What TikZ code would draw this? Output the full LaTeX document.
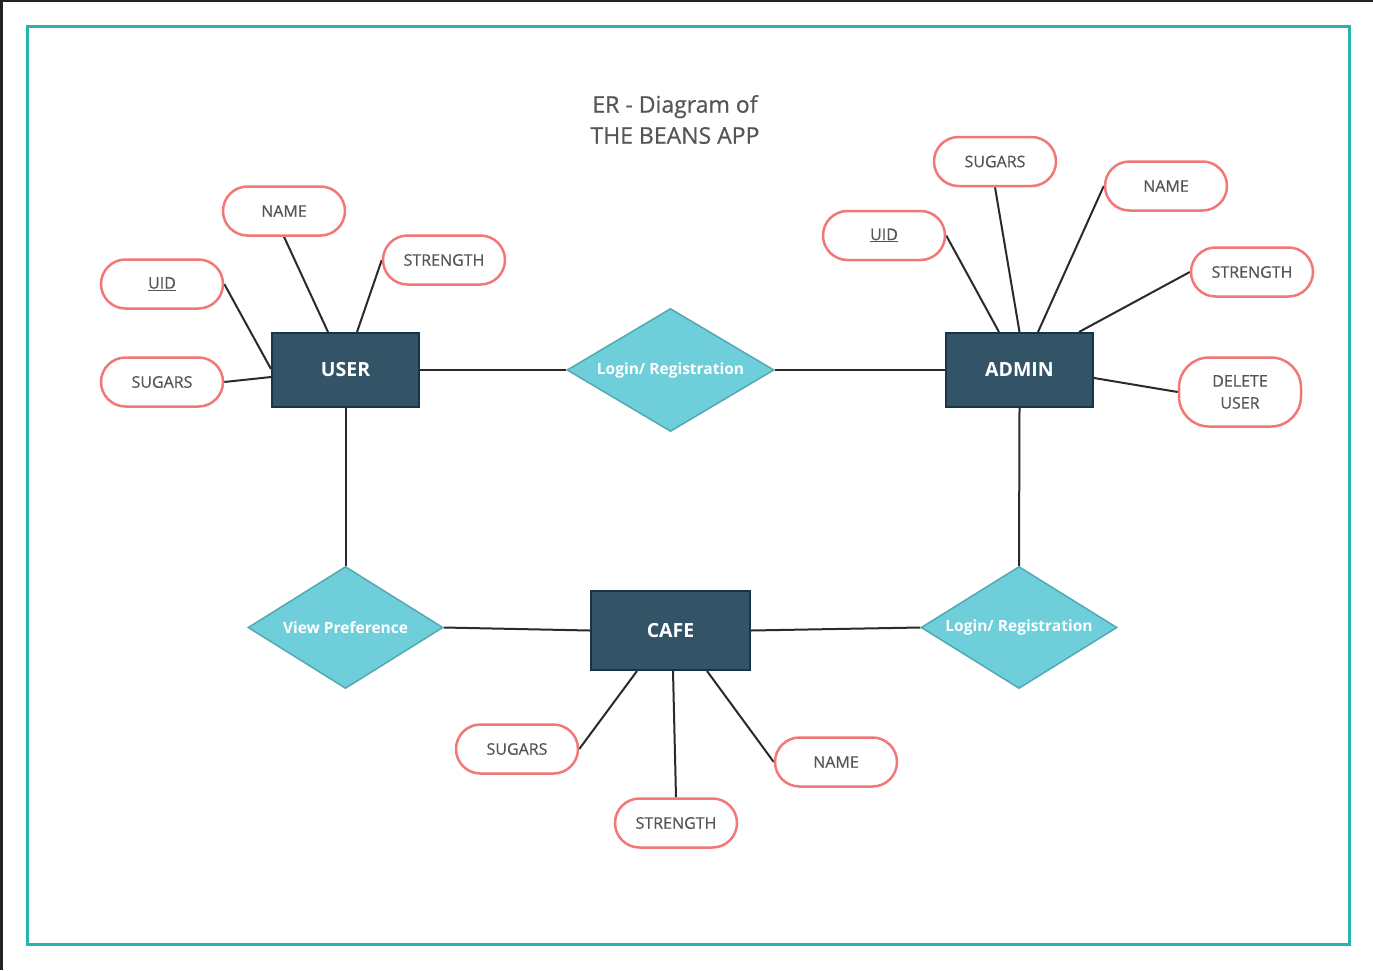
\documentclass[tikz,border=0pt]{standalone}
\usepackage{fontspec}
\setmainfont{Open Sans}
\newfontfamily\attrfont[FakeBold=0.5]{Open Sans}
\usetikzlibrary{shapes.geometric}
\pgfdeclarelayer{bg}
\pgfsetlayers{bg,main}
\definecolor{framecol}{HTML}{27B3AE}
\definecolor{entfill}{HTML}{335366}
\definecolor{entline}{HTML}{17354A}
\definecolor{relfill}{HTML}{6ECFDA}
\definecolor{relline}{HTML}{52A8B3}
\definecolor{attline}{HTML}{F27777}
\definecolor{txtgray}{HTML}{555555}
\definecolor{conn}{HTML}{2A2A2A}
\definecolor{edgebar}{HTML}{222222}
\tikzset{
  entity/.style={draw=entline, fill=entfill, line width=2pt, minimum width=147pt, minimum height=74pt, inner sep=0pt, text=white, font=\fontsize{19.5}{23}\selectfont\bfseries},
  relation/.style={diamond, shape aspect=1.68, draw=relline, fill=relfill, line width=1.5pt, minimum width=207pt, minimum height=123pt, inner sep=0pt, text=white, font=\fontsize{15.5}{19}\selectfont\bfseries},
  attr/.style={draw=attline, fill=white, line width=2.5pt, rounded corners=24.5pt, minimum width=122pt, minimum height=49pt, inner sep=0pt, text=txtgray, font=\attrfont\fontsize{16}{22}\selectfont, align=center},
  link/.style={draw=conn, line width=2pt},
}
\begin{document}
\begin{tikzpicture}[x=1pt, y=-1pt]
\useasboundingbox (0,0) rectangle (1373,970);

\node[text=txtgray, font=\attrfont\fontsize{23}{31}\selectfont, align=center] (title) at (675,119.5) {ER - Diagram of\\THE BEANS APP};

% entities
\node[entity] (user) at (345.5,370) {USER};
\node[entity] (admin) at (1019.5,370) {ADMIN};
\node[entity, minimum width=159pt, minimum height=79pt] (cafe) at (670.5,630.5) {CAFE};

% relations
\node[relation] (login1) at (670.5,370) {Login/ Registration};
\node[relation, minimum width=195pt, minimum height=122pt] (view) at (345.5,627.5) {View Preference};
\node[relation, minimum width=196pt, minimum height=122pt] (login2) at (1019,627.5) {Login/ Registration};

% user attributes
\node[attr] (uname) at (284,211) {NAME};
\node[attr] (ustr) at (444,260) {STRENGTH};
\node[attr] (uuid) at (162,284) {\underline{UID}};
\node[attr] (usug) at (162,382) {SUGARS};

% admin attributes
\node[attr] (asug) at (995,161.5) {SUGARS};
\node[attr] (aname) at (1166,186) {NAME};
\node[attr] (auid) at (884,235.5) {\underline{UID}};
\node[attr] (astr) at (1252,272) {STRENGTH};
\node[attr, minimum height=69pt, rounded corners=30pt] (adel) at (1240,392) {DELETE\\USER};

% cafe attributes
\node[attr] (csug) at (517,749) {SUGARS};
\node[attr] (cstr) at (676,823) {STRENGTH};
\node[attr] (cname) at (836,762) {NAME};

\begin{pgfonlayer}{bg}
\fill[white] (0,0) rectangle (1373,970);
\fill[edgebar] (0,0) rectangle (3,970);
\fill[edgebar] (0,0) rectangle (1373,2);
\draw[framecol, line width=2.7pt] (27.3,26.8) rectangle (1349.7,944.2);

\draw[link] (user.east) -- (login1.west);
\draw[link] (login1.east) -- (admin.west);
\draw[link] (user.south) -- (view.north);
\draw[link] (view.east) -- (cafe.west);
\draw[link] (cafe.east) -- (login2.west);
\draw[link] (admin.south) -- (login2.north);

\draw[link] (uuid.east) -- ([yshift=1pt]user.west);
\draw[link] (uname.south) -- ([xshift=-17.5pt]user.north);
\draw[link] (ustr.west) -- ([xshift=11.5pt]user.north);
\draw[link] (usug.east) -- ([yshift=-7pt]user.west);

\draw[link] (auid.east) -- ([xshift=-20.5pt]admin.north);
\draw[link] (asug.south) -- (admin.north);
\draw[link] (aname.west) -- ([xshift=18.5pt]admin.north);
\draw[link] (astr.west) -- ([xshift=59.5pt]admin.north);
\draw[link] ([yshift=-8pt]admin.east) -- (adel.west);

\draw[link] (csug.east) -- ([xshift=-33.5pt]cafe.south);
\draw[link] (cstr.north) -- ([xshift=2.5pt]cafe.south);
\draw[link] (cname.west) -- ([xshift=36.5pt]cafe.south);
\end{pgfonlayer}
\end{tikzpicture}
\end{document}
